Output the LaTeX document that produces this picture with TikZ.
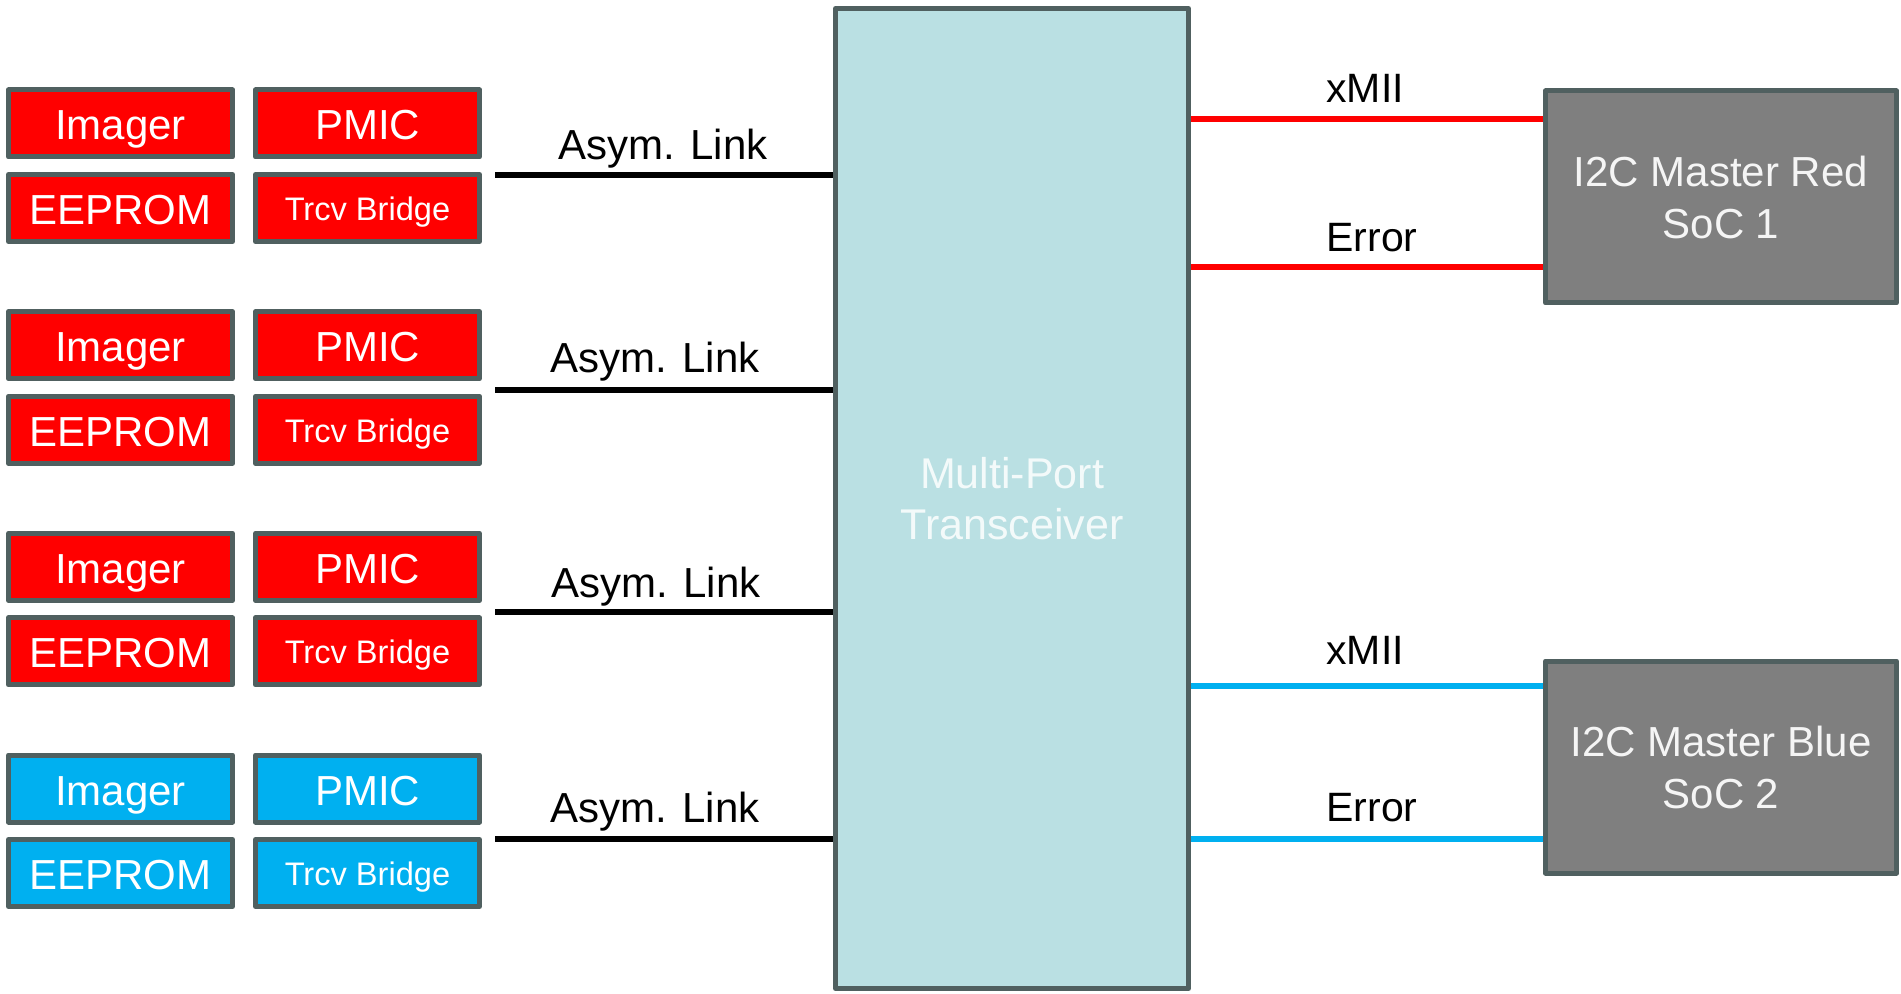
\documentclass[tikz,border=0pt]{standalone}
\usepackage{fontspec}
\setmainfont{Liberation Sans}
\usetikzlibrary{calc}

\definecolor{edge}{RGB}{80,96,96}
\definecolor{sigred}{RGB}{255,0,0}
\definecolor{sigblue}{RGB}{0,176,240}
\definecolor{hubfill}{RGB}{186,224,227}
\definecolor{hubtext}{RGB}{243,250,250}
\definecolor{socfill}{RGB}{127,127,127}
\definecolor{soctext}{RGB}{245,245,245}

\tikzset{
  chip/.style={draw=edge, line width=2.5pt, line join=round, inner sep=0pt,
    minimum width=112pt, minimum height=33.5pt, text=white,
    font=\fontsize{21}{25}\selectfont, text height=16.5pt, text depth=0pt},
  chipsmall/.style={chip, font=\fontsize{16.3}{19}\selectfont, text height=12.5pt},
  redchip/.style={chip, fill=sigred},
  bluechip/.style={chip, fill=sigblue},
  hub/.style={draw=edge, line width=2.5pt, line join=round, fill=hubfill,
    inner sep=0pt, minimum width=176.5pt, minimum height=490pt,
    text=hubtext, align=center, font=\fontsize{21.5}{25.5}\selectfont},
  soc/.style={draw=edge, line width=2.5pt, line join=round, fill=socfill,
    inner sep=0pt, minimum width=175.5pt, minimum height=106pt,
    text=soctext, align=center, font=\fontsize{21}{26}\selectfont},
  link/.style={line width=2.7pt, black},
  redlink/.style={line width=2.8pt, sigred},
  bluelink/.style={line width=2.8pt, sigblue},
  linklabel/.style={anchor=base, inner sep=0pt, font=\fontsize{21}{25}\selectfont},
  siglabel/.style={anchor=base west, inner sep=0pt, font=\fontsize{20.5}{25}\selectfont},
}

\begin{document}
\begin{tikzpicture}[x=0.5pt, y=-0.5pt]
  \useasboundingbox (0,0) rectangle (1901,994);

  % central transceiver
  \node[hub] (hub) at (1012,498.5) {Multi-Port\\Transceiver};

  % SoC hosts
  \node[soc] (soc1) at (1721,197) {I2C Master Red\\SoC 1};
  \node[soc] (soc2) at (1721,767) {I2C Master Blue\\SoC 2};

  % camera modules: four groups of four devices
  \foreach \g/\yc/\kind in {1/123.5/redchip, 2/345.2/redchip, 3/566.9/redchip, 4/788.5/bluechip}{
    \node[\kind] (img\g)  at (120.5,\yc) {Imager};
    \node[\kind] (pmic\g) at (367.5,\yc) {PMIC};
    \node[\kind] (eep\g)  at (120.5,\yc+84.5) {EEPROM};
    \node[\kind, chipsmall] (brg\g) at (367.5,\yc+84.5) {Trcv Bridge};
  }

  % asymmetric links into the transceiver
  \coordinate (ls1) at (495,175);
  \coordinate (ls2) at (495,390);
  \coordinate (ls3) at (495,612);
  \coordinate (ls4) at (495,839);
  \foreach \i in {1,...,4}{
    \draw[link] (ls\i) -- (ls\i -| hub.west);
  }
  \node[linklabel] (al1) at (663,160) {Asym. Link};
  \node[linklabel] (al2) at (655,373) {Asym. Link};
  \node[linklabel] (al3) at (656,597) {Asym. Link};
  \node[linklabel] (al4) at (655,822) {Asym. Link};

  % host-side signals
  \coordinate (r1) at (1100,119);
  \coordinate (r2) at (1100,267);
  \coordinate (b1) at (1100,686);
  \coordinate (b2) at (1100,839);
  \draw[redlink]  (r1 -| hub.east) -- (r1 -| soc1.west);
  \draw[redlink]  (r2 -| hub.east) -- (r2 -| soc1.west);
  \draw[bluelink] (b1 -| hub.east) -- (b1 -| soc2.west);
  \draw[bluelink] (b2 -| hub.east) -- (b2 -| soc2.west);

  \node[siglabel] (xr) at (1326,103) {xMII};
  \node[siglabel] (er) at (1326,252) {Error};
  \node[siglabel] (xb) at (1326,664) {xMII};
  \node[siglabel] (eb) at (1326,821) {Error};
\end{tikzpicture}
\end{document}
